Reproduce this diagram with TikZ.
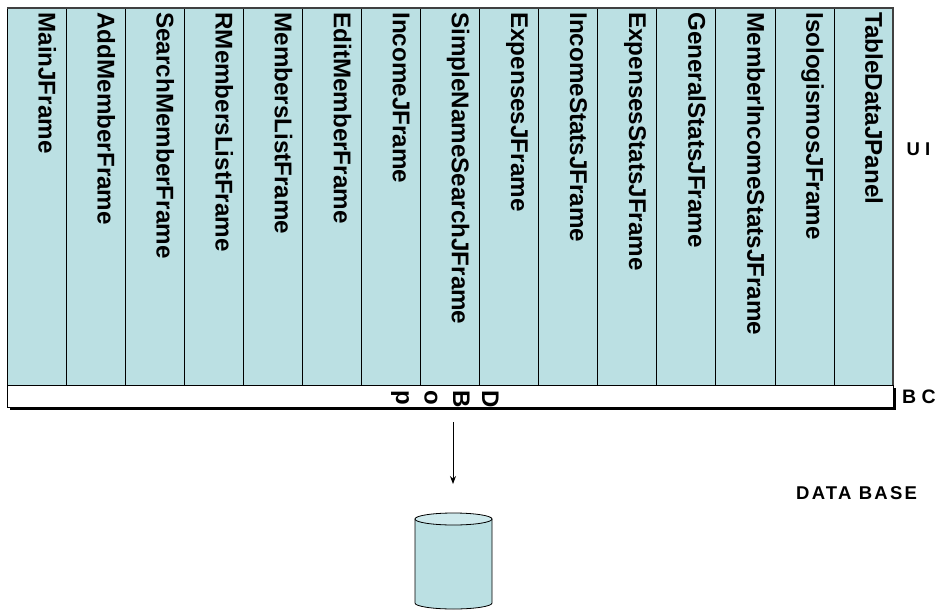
\documentclass[tikz,border=0pt]{standalone}
\usepackage{fontspec}
\setmainfont{Liberation Sans}
\usetikzlibrary{arrows.meta}

\definecolor{panelfill}{RGB}{187,224,227}
\definecolor{toplid}{RGB}{206,233,236}
\definecolor{rimgray}{RGB}{64,64,64}

\tikzset{
  colbox/.style={draw=black, line width=0.8pt, fill=panelfill},
  collabel/.style={rotate=-90, anchor=base west, inner sep=0pt,
    font=\fontsize{24.2}{28}\selectfont\bfseries},
  collabelreg/.style={rotate=-90, anchor=base west, inner sep=0pt,
    font=\fontsize{25.4}{28}\selectfont},
  barletter/.style={rotate=-90, anchor=base west, inner sep=0pt,
    font=\fontsize{24}{28}\selectfont\bfseries},
  layerlabel/.style={anchor=base west, inner sep=0pt, font=\bfseries},
  flowarrow/.style={draw=black, line width=0.8pt, -{Stealth[length=8pt,width=6pt]}},
}

\begin{document}
\begin{tikzpicture}[x=1pt, y=-1pt]
  \useasboundingbox (0,0) rectangle (941,610);

  % UI layer: fifteen vertical frame columns
  \foreach \i/\name/\wt in {
      0/MainJFrame/b, 1/AddMemberFrame/b, 2/SearchMemberFrame/r,
      3/RMembersListFrame/b, 4/MembersListFrame/b, 5/EditMemberFrame/b,
      6/IncomeJFrame/b, 7/SimpleNameSearchJFrame/b, 8/ExpensesJFrame/b,
      9/IncomeStatsJFrame/b, 10/ExpensesStatsJFrame/b, 11/GeneralStatsJFrame/b,
      12/MemberIncomeStatsJFrame/b, 13/IsologismosJFrame/b, 14/TableDataJPanel/b} {
    \pgfmathsetmacro{\xl}{7+59.07*\i}
    \pgfmathsetmacro{\xr}{7+59.07*(\i+1)}
    \draw[colbox] (\xl,8) rectangle (\xr,385);
    \ifx\wt r
      \node[collabelreg] (col\i) at (\xl+31.5,12.5) {\name};
    \else
      \node[collabel] (col\i) at (\xl+31.5,12.2) {\name};
    \fi
  }
  % darker rim along the top and right of the UI block
  \draw[rimgray, line width=1.6pt] (7,8) -- (893,8) -- (893,385);

  % BC layer: bar with drop shadow
  \fill[black] (9.5,387.5) rectangle (895.5,409.5);
  \draw[fill=white, draw=black, line width=0.8pt] (7,385) rectangle (893,407);
  \node[barletter] (bcD) at (482,390) {D};
  \node[barletter] (bcB) at (453,390) {B};
  \node[barletter] (bcO) at (424.5,390) {o};
  \node[barletter] (bcP) at (396,390) {p};

  % layer labels
  \node[layerlabel, font=\fontsize{18.5}{22}\selectfont\bfseries] (lblui) at (906.5,155.5) {U I};
  \node[layerlabel, font=\fontsize{19.5}{22}\selectfont\bfseries] (lblbc) at (902,403.5) {B C};
  \node[layerlabel, font=\fontsize{18.5}{22}\selectfont\bfseries\addfontfeatures{LetterSpace=12}]
    (lbldb) at (796,499.5) {DATA BASE};

  % access arrow towards the database
  \coordinate (arrowtop) at (453,422);
  \coordinate (arrowtip) at (453,484);
  \draw[flowarrow] (arrowtop) -- (arrowtip);

  % database cylinder
  \coordinate (dbtop) at (453.5,519);
  \draw[fill=panelfill, draw=black, line width=0.8pt]
    (415,519) -- (415,603) arc[start angle=180, end angle=360, x radius=38.5, y radius=-6]
    -- (492,519) -- cycle;
  \draw[fill=toplid, draw=black, line width=0.8pt] (dbtop) ellipse[x radius=38.5, y radius=6];
\end{tikzpicture}
\end{document}
